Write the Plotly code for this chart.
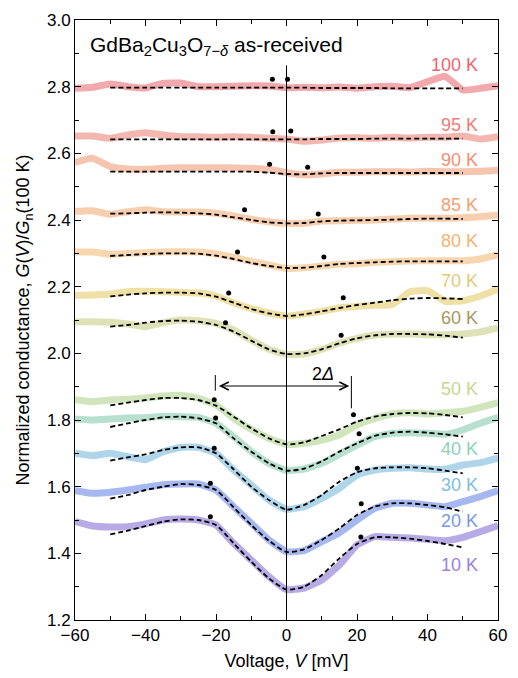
import plotly.graph_objects as go

# ---------------- data ----------------
V_DATA = [-60, -55, -50, -45, -40, -35, -30, -25, -20, -15, -10, -5, 0,
          5, 10, 15, 20, 25, 30, 35, 40, 45, 50, 55, 60]
V_FIT = [-50, -45, -40, -35, -30, -25, -20, -15, -10, -5, 0,
         5, 10, 15, 20, 25, 30, 35, 40, 45, 50]

TEMPS = ["100 K", "95 K", "90 K", "85 K", "80 K", "70 K", "60 K",
         "50 K", "40 K", "30 K", "20 K", "10 K"]

G_DATA = {
    "100 K": [2.795, 2.798, 2.808, 2.800, 2.796, 2.810, 2.811, 2.800, 2.800, 2.801, 2.803, 2.802, 2.797,
              2.798, 2.797, 2.799, 2.795, 2.800, 2.801, 2.797, 2.815, 2.831, 2.790, 2.795, 2.803],
    "95 K": [2.652, 2.652, 2.645, 2.655, 2.662, 2.655, 2.650, 2.650, 2.648, 2.650, 2.648, 2.645, 2.643,
             2.636, 2.640, 2.646, 2.647, 2.645, 2.648, 2.646, 2.648, 2.648, 2.652, 2.643, 2.650],
    "90 K": [2.572, 2.585, 2.560, 2.553, 2.552, 2.555, 2.557, 2.557, 2.557, 2.556, 2.555, 2.552, 2.542,
             2.536, 2.538, 2.543, 2.543, 2.545, 2.545, 2.544, 2.546, 2.545, 2.545, 2.546, 2.549],
    "85 K": [2.426, 2.428, 2.417, 2.425, 2.431, 2.425, 2.424, 2.424, 2.420, 2.412, 2.402, 2.395, 2.390,
             2.390, 2.397, 2.398, 2.399, 2.400, 2.403, 2.405, 2.406, 2.405, 2.407, 2.410, 2.415],
    "80 K": [2.304, 2.304, 2.297, 2.300, 2.302, 2.304, 2.305, 2.304, 2.298, 2.288, 2.276, 2.265, 2.255,
             2.257, 2.262, 2.267, 2.269, 2.273, 2.275, 2.277, 2.278, 2.278, 2.278, 2.283, 2.296],
    "70 K": [2.174, 2.175, 2.178, 2.185, 2.186, 2.185, 2.183, 2.181, 2.172, 2.151, 2.134, 2.121, 2.112,
             2.118, 2.126, 2.137, 2.141, 2.144, 2.146, 2.185, 2.188, 2.156, 2.158, 2.172, 2.192],
    "60 K": [2.095, 2.095, 2.093, 2.088, 2.080, 2.092, 2.100, 2.098, 2.090, 2.070, 2.040, 2.012, 1.997,
             1.998, 2.012, 2.031, 2.045, 2.055, 2.058, 2.058, 2.056, 2.056, 2.058, 2.064, 2.076],
    "50 K": [1.861, 1.855, 1.860, 1.862, 1.866, 1.872, 1.874, 1.865, 1.845, 1.805, 1.772, 1.745, 1.727,
             1.730, 1.740, 1.755, 1.785, 1.805, 1.818, 1.822, 1.818, 1.822, 1.826, 1.838, 1.852],
    "40 K": [1.803, 1.800, 1.803, 1.806, 1.807, 1.811, 1.810, 1.808, 1.790, 1.750, 1.706, 1.670, 1.649,
             1.653, 1.670, 1.697, 1.725, 1.750, 1.760, 1.762, 1.760, 1.757, 1.770, 1.790, 1.808],
    "30 K": [1.700, 1.693, 1.700, 1.690, 1.681, 1.705, 1.718, 1.718, 1.700, 1.650, 1.605, 1.560, 1.532,
             1.540, 1.565, 1.595, 1.635, 1.650, 1.655, 1.657, 1.653, 1.652, 1.665, 1.672, 1.686],
    "20 K": [1.588, 1.580, 1.583, 1.590, 1.598, 1.606, 1.608, 1.608, 1.590, 1.540, 1.490, 1.440, 1.405,
             1.408, 1.435, 1.462, 1.500, 1.535, 1.550, 1.550, 1.545, 1.540, 1.555, 1.570, 1.588],
    "10 K": [1.496, 1.482, 1.479, 1.480, 1.488, 1.500, 1.503, 1.500, 1.485, 1.430, 1.380, 1.330, 1.291,
             1.296, 1.320, 1.365, 1.425, 1.450, 1.448, 1.446, 1.442, 1.438, 1.448, 1.465, 1.483],
}

G_FIT = {
    "100 K": [2.797] * 11 + [2.797, 2.796, 2.796, 2.796, 2.796, 2.795, 2.795, 2.795, 2.795, 2.795],
    "95 K": [2.642] * 11 + [2.642, 2.643, 2.643, 2.643, 2.644, 2.644, 2.644, 2.644, 2.644, 2.644],
    "90 K": [2.545, 2.545, 2.545, 2.545, 2.545, 2.545, 2.545, 2.545, 2.545, 2.542, 2.538,
             2.537, 2.540, 2.541, 2.541, 2.541, 2.541, 2.541, 2.541, 2.541, 2.541],
    "85 K": [2.419, 2.420, 2.422, 2.423, 2.422, 2.420, 2.416, 2.408, 2.400, 2.393, 2.390,
             2.391, 2.396, 2.398, 2.399, 2.400, 2.401, 2.403, 2.404, 2.404, 2.403],
    "80 K": [2.292, 2.295, 2.298, 2.300, 2.300, 2.299, 2.293, 2.283, 2.271, 2.262, 2.256,
             2.257, 2.262, 2.268, 2.271, 2.273, 2.275, 2.276, 2.276, 2.276, 2.276],
    "70 K": [2.171, 2.176, 2.180, 2.182, 2.182, 2.180, 2.170, 2.152, 2.133, 2.120, 2.112,
             2.117, 2.126, 2.136, 2.145, 2.152, 2.159, 2.164, 2.166, 2.165, 2.163],
    "60 K": [2.080, 2.085, 2.092, 2.097, 2.098, 2.095, 2.085, 2.065, 2.038, 2.012, 1.998,
             2.000, 2.012, 2.030, 2.045, 2.054, 2.058, 2.058, 2.057, 2.053, 2.047],
    "50 K": [1.844, 1.852, 1.860, 1.866, 1.866, 1.860, 1.843, 1.810, 1.775, 1.745, 1.727,
             1.733, 1.752, 1.772, 1.795, 1.810, 1.818, 1.821, 1.820, 1.815, 1.808],
    "40 K": [1.779, 1.790, 1.800, 1.808, 1.810, 1.805, 1.790, 1.745, 1.705, 1.670, 1.648,
             1.654, 1.676, 1.705, 1.730, 1.752, 1.762, 1.765, 1.762, 1.757, 1.750],
    "30 K": [1.678, 1.688, 1.697, 1.710, 1.718, 1.718, 1.700, 1.652, 1.600, 1.560, 1.531,
             1.545, 1.575, 1.615, 1.643, 1.655, 1.658, 1.658, 1.655, 1.648, 1.640],
    "20 K": [1.564, 1.575, 1.590, 1.600, 1.608, 1.605, 1.590, 1.538, 1.485, 1.438, 1.404,
             1.412, 1.440, 1.475, 1.515, 1.540, 1.550, 1.550, 1.545, 1.538, 1.525],
    "10 K": [1.457, 1.468, 1.482, 1.495, 1.502, 1.500, 1.485, 1.430, 1.375, 1.325, 1.291,
             1.300, 1.335, 1.385, 1.428, 1.448, 1.448, 1.444, 1.437, 1.428, 1.418],
}

# gap-edge markers (V, G) : two per temperature
PEAK_V = {
    "100 K": [-4.0, 0.3], "95 K": [-3.9, 1.2], "90 K": [-4.8, 6.0], "85 K": [-11.9, 9.0],
    "80 K": [-13.9, 10.6], "70 K": [-16.4, 16.1], "60 K": [-17.3, 15.5], "50 K": [-20.5, 19.0],
    "40 K": [-20.1, 20.6], "30 K": [-20.5, 20.1], "20 K": [-21.6, 21.2], "10 K": [-21.6, 21.1],
}
PEAK_G = {
    "100 K": [2.822, 2.822], "95 K": [2.665, 2.667], "90 K": [2.567, 2.558], "85 K": [2.431, 2.418],
    "80 K": [2.304, 2.289], "70 K": [2.181, 2.167], "60 K": [2.092, 2.054], "50 K": [1.861, 1.816],
    "40 K": [1.806, 1.759], "30 K": [1.715, 1.655], "20 K": [1.610, 1.549], "10 K": [1.510, 1.449],
}

# label positions of the temperature labels
LABEL_G = {
    "100 K": 2.864, "95 K": 2.686, "90 K": 2.580, "85 K": 2.445, "80 K": 2.337, "70 K": 2.216,
    "60 K": 2.107, "50 K": 1.893, "40 K": 1.713, "30 K": 1.604, "20 K": 1.497, "10 K": 1.365,
}
LABEL_V = 54.8

LABEL_COLORS = {
    "100 K": "#f2646e", "95 K": "#f47c70", "90 K": "#f58e70", "85 K": "#f6a070",
    "80 K": "#f5b272", "70 K": "#e0cc78", "60 K": "#a89860", "50 K": "#c6d88e",
    "40 K": "#8ad2b8", "30 K": "#7cc0de", "20 K": "#7898e8", "10 K": "#9a82dc",
}
LINE_COLORS = {
    "100 K": "rgba(236,140,146,0.75)", "95 K": "rgba(238,160,150,0.75)", "90 K": "rgba(242,178,150,0.75)",
    "85 K": "rgba(244,190,150,0.75)", "80 K": "rgba(244,200,150,0.75)", "70 K": "rgba(236,218,150,0.85)",
    "60 K": "rgba(216,222,170,0.85)", "50 K": "rgba(196,222,170,0.8)", "40 K": "rgba(166,216,196,0.8)",
    "30 K": "rgba(160,206,230,0.85)", "20 K": "rgba(150,172,236,0.85)", "10 K": "rgba(170,156,226,0.85)",
}

# 2Δ arrow
ARROW_V = [-20.2, 18.4]
ARROW_G = 1.902
BAR_LEFT_G = [1.888, 1.935]
BAR_RIGHT_G = [1.835, 1.932]
ZERO_LINE_G = [1.2, 2.864]

FONT = "Liberation Sans, Arial, Helvetica, sans-serif"

fig = go.Figure()

for t in TEMPS:
    fig.add_trace(go.Scatter(x=V_DATA, y=G_DATA[t], mode="lines",
                             line=dict(color=LINE_COLORS[t], width=7, shape="spline", smoothing=0.4),
                             showlegend=False, hoverinfo="skip"))
for t in TEMPS:
    fig.add_trace(go.Scatter(x=V_FIT, y=G_FIT[t], mode="lines",
                             line=dict(color="black", width=1.8, dash="5px,3px", shape="spline", smoothing=0.6),
                             showlegend=False, hoverinfo="skip"))
for t in TEMPS:
    fig.add_trace(go.Scatter(x=PEAK_V[t], y=PEAK_G[t], mode="markers",
                             marker=dict(color="black", size=5),
                             showlegend=False, hoverinfo="skip"))

# zero-bias vertical line
fig.add_shape(type="line", x0=0, x1=0, y0=ZERO_LINE_G[0], y1=ZERO_LINE_G[1],
              xref="x", yref="y", line=dict(color="black", width=1), layer="above")
# 2Δ bars
fig.add_shape(type="line", x0=ARROW_V[0], x1=ARROW_V[0], y0=BAR_LEFT_G[0], y1=BAR_LEFT_G[1],
              xref="x", yref="y", line=dict(color="black", width=1))
fig.add_shape(type="line", x0=ARROW_V[1], x1=ARROW_V[1], y0=BAR_RIGHT_G[0], y1=BAR_RIGHT_G[1],
              xref="x", yref="y", line=dict(color="black", width=1))
fig.add_annotation(x=ARROW_V[1] - 0.6, y=ARROW_G, ax=ARROW_V[0] + 0.6, ay=ARROW_G,
                   xref="x", yref="y", axref="x", ayref="y", text="",
                   showarrow=True, arrowside="end+start", arrowhead=5, arrowsize=1.6,
                   arrowwidth=1, arrowcolor="black")
fig.add_annotation(x=10.3, y=1.938, xref="x", yref="y", text="2<i>Δ</i>", showarrow=False,
                   font=dict(family=FONT, size=18, color="black"))

# temperature labels
for t in TEMPS:
    fig.add_annotation(x=LABEL_V, y=LABEL_G[t], xref="x", yref="y", text=t, showarrow=False,
                       xanchor="right", yanchor="middle",
                       font=dict(family=FONT, size=18, color=LABEL_COLORS[t]))

# sample title
fig.add_annotation(x=-56.2, y=2.923, xref="x", yref="y",
                   text="GdBa<sub>2</sub>Cu<sub>3</sub>O<sub>7−<i>δ</i></sub> as-received",
                   showarrow=False, xanchor="left", yanchor="middle",
                   font=dict(family=FONT, size=21, color="black"))

axis_common = dict(showline=True, linecolor="black", linewidth=1, mirror="allticks",
                   ticks="inside", ticklen=6, tickcolor="black", tickwidth=1,
                   showgrid=False, zeroline=False,
                   tickfont=dict(family=FONT, size=17, color="black"))

fig.update_xaxes(range=[-60, 60], dtick=20, tick0=-60,
                 minor=dict(dtick=10, ticks="inside", ticklen=4, tickcolor="black"),
                 title=dict(text="Voltage, <i>V</i> [mV]", font=dict(family=FONT, size=18, color="black"),
                            standoff=9),
                 **axis_common)
fig.update_yaxes(range=[1.2, 3.0], dtick=0.2, tick0=1.2, tickformat=".1f",
                 minor=dict(dtick=0.1, ticks="inside", ticklen=4, tickcolor="black"),
                 title=dict(text="Normalized conductance, <i>G</i>(<i>V</i>)/<i>G</i><sub>n</sub>(100 K)",
                            font=dict(family=FONT, size=18, color="black"), standoff=12),
                 **axis_common)

fig.update_layout(width=518, height=678, margin=dict(l=75, r=11, t=19, b=50),
                  plot_bgcolor="white", paper_bgcolor="white", showlegend=False,
                  font=dict(family=FONT, color="black"))

# remove the default 8 px page margin so the 518x678 figure fills the window exactly
fig.write_html("out.html", config={"displayModeBar": False},
               post_script="document.body.style.margin='0px';document.body.style.overflow='hidden';")
